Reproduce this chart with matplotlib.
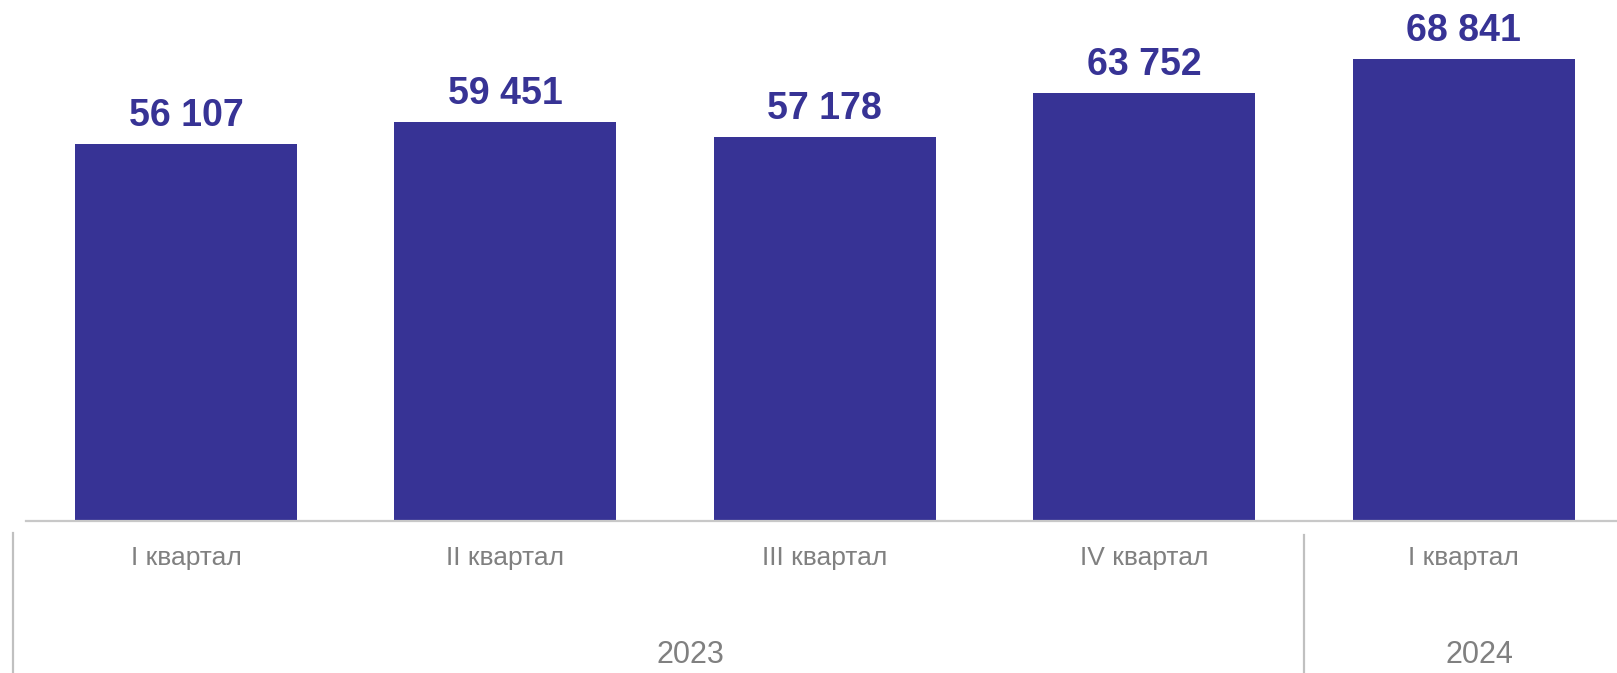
import matplotlib
matplotlib.use("Agg")
import matplotlib.pyplot as plt
from matplotlib.transforms import blended_transform_factory

plt.rcParams["font.family"] = ["Liberation Sans", "DejaVu Sans"]

# Данные
quarters = ["I квартал", "II квартал", "III квартал", "IV квартал", "I квартал"]
values = [56107, 59451, 57178, 63752, 68841]
years = ["2023", "2024"]
year_pos = [1.58, 4.05]   # центр подписи года по оси x
year_sep = [3.5]          # граница между годами

BAR = "#373395"
GRAY = "#808080"
LINE = "#c8c8c8"

W, H = 1617, 673
fig = plt.figure(figsize=(W / 100, H / 100), dpi=100)
ax = fig.add_axes([26.3 / W, (H - 521) / H, 1597 / W, 521 / H])

xs = list(range(len(values)))
bars = ax.bar(xs, values, width=0.695, color=BAR, zorder=2)
ax.set_xlim(-0.5, len(values) - 0.5)
ax.set_ylim(0, 77630)

for b, v in zip(bars, values):
    ax.annotate(f"{v:,}".replace(",", " "),
                (b.get_x() + b.get_width() / 2, v),
                xytext=(0, 10), textcoords="offset pixels",
                ha="center", va="bottom", fontsize=27, fontweight="bold",
                color=BAR)

for s in ["top", "right", "left"]:
    ax.spines[s].set_visible(False)
ax.spines["bottom"].set_color(LINE)
ax.spines["bottom"].set_linewidth(1.6)
ax.set_yticks([])
ax.set_xticks(xs)
ax.set_xticklabels(quarters, fontsize=19, color=GRAY)
ax.tick_params(axis="x", length=0, pad=18)

# подписи годов и разделители
tr = blended_transform_factory(ax.transData, fig.transFigure)
for yl, xp in zip(years, year_pos):
    ax.text(xp, 3 / H, yl, transform=tr, ha="center", va="bottom",
            fontsize=22, color=GRAY, clip_on=False)

fig.add_artist(plt.Line2D([12.7 / W, 12.7 / W], [0, (H - 533) / H],
                          color="#c0c0c0", linewidth=1.6))
for xsep in year_sep:
    ax.plot([xsep, xsep], [0, (H - 535) / H], transform=tr,
            color="#c0c0c0", linewidth=1.6, clip_on=False)

fig.savefig("out.png", dpi=100, facecolor="white")
